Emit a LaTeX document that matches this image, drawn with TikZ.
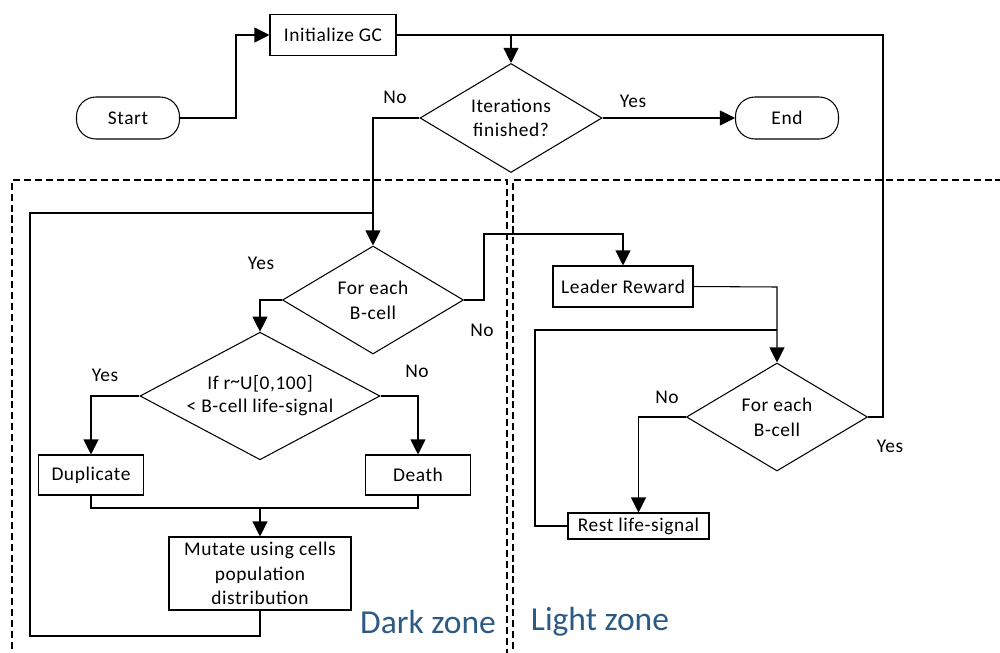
\documentclass[tikz,border=0pt]{standalone}
\usepackage{fontspec}
\setmainfont[LetterSpace=3]{Carlito}
\newfontfamily\zonefont{Carlito}
\usetikzlibrary{arrows.meta,shapes.geometric,positioning}
\definecolor{zonecol}{HTML}{2C5A85}
\begin{document}
\begin{tikzpicture}[x=0.5669pt,y=-0.5669pt,
  every node/.style={font=\fontsize{11}{14}\selectfont},
  conn/.style={line width=0.6pt},
  arr/.style={conn,-{Triangle[length=8.5pt,width=8.5pt]}},
  procbox/.style={draw,line width=0.6pt,rectangle,inner sep=0pt,align=center},
  termbox/.style={draw,line width=0.6pt,rounded corners=11pt,inner sep=0pt,minimum width=103*0.5669pt,minimum height=42*0.5669pt},
  decbox/.style={draw,line width=0.6pt,diamond,inner sep=0pt,aspect=1.68,align=center},
  zone/.style={line width=1.4pt,dash pattern=on 4pt off 2.2pt},
  lbl/.style={inner sep=0pt},
  zonelbl/.style={font=\zonefont\fontsize{19}{22}\selectfont,text=zonecol,inner sep=0pt}]
\useasboundingbox (0,0) rectangle (1000,653);
% zones
\draw[zone] (12,660) -- (12,180) -- (507,180) -- (507,660);
\draw[zone] (513,660) -- (513,180) -- (1005,180);
% nodes
\node[termbox] (start) at (128,118) {Start};
\node[termbox] (end) at (787,118) {End};
\node[procbox,minimum width=126*0.5669pt,minimum height=41*0.5669pt] (init) at (333,35) {Initialize GC};
\node[decbox,minimum width=182*0.5669pt,minimum height=109*0.5669pt] (iter) at (511,118) {Iterations\\finished?};
\node[decbox,minimum width=181*0.5669pt,minimum height=108*0.5669pt] (each1) at (373,300) {For each\\B-cell};
\node[decbox,minimum width=240*0.5669pt,minimum height=103*0.5669pt] (ifr) at (260,396) {If r\raisebox{0.3ex}{\textasciitilde}U[0,100]\\[-1pt]< B-cell life-signal};
\node[procbox,minimum width=105*0.5669pt,minimum height=40*0.5669pt] (dup) at (91,475) {Duplicate};
\node[procbox,minimum width=105*0.5669pt,minimum height=40*0.5669pt] (death) at (418,475) {Death};
\node[procbox,minimum width=182*0.5669pt,minimum height=73*0.5669pt] (mut) at (260,573.5) {Mutate using cells\\population\\distribution};
\node[procbox,minimum width=140*0.5669pt,minimum height=41*0.5669pt] (lead) at (623,286.5) {Leader Reward};
\node[decbox,minimum width=181*0.5669pt,minimum height=108*0.5669pt] (each2) at (777,417) {For each\\B-cell};
\node[procbox,minimum width=141*0.5669pt,minimum height=26*0.5669pt] (rest) at (638.5,526) {Rest life-signal};
% coordinates
\coordinate (c1) at (236,118);
\coordinate (c2) at (236,35);
\coordinate (top) at (511,35);
\coordinate (rtop) at (883,35);
\coordinate (rmid) at (883,417);
\coordinate (nol) at (373,118);
\coordinate (loopj) at (373,213);
\coordinate (loopa) at (30,213);
\coordinate (loopb) at (30,636);
\coordinate (loopc) at (260,636);
\coordinate (noa) at (484,300);
\coordinate (nob) at (484,234);
\coordinate (noc) at (623,234);
\coordinate (lr) at (777,287);
\coordinate (lj) at (777,330);
\coordinate (la) at (535,330);
\coordinate (lb) at (535,526);
\coordinate (merge) at (260,508);
% connectors
\draw[arr] (start.east) -- (c1) -- (c2) -- (init.west);
\draw[conn] (init.east) -- (rtop) -- (rmid) -- (each2.east);
\draw[arr] (top) -- (iter.north);
\draw[arr] (iter.east) -- (end.west);
\draw[arr] (iter.west) -- (nol) -- (each1.north);
\draw[conn] (mut.south) -- (loopc) -- (loopb) -- (loopa) -- (loopj);
\draw[arr] (each1.west) -| (ifr.north);
\draw[arr] (each1.east) -- (noa) -- (nob) -- (noc) -- (lead.north);
\draw[arr] (ifr.west) -| (dup.north);
\draw[arr] (ifr.east) -| (death.north);
\draw[conn] (dup.south) |- (merge) -| (death.south);
\draw[arr] (merge) -- (mut.north);
\draw[arr] (lead.east) -- (lr) -- (each2.north);
\draw[arr] (each2.west) -| (rest.north);
\draw[conn] (rest.west) -- (lb) -- (la) -- (lj);
% labels
\node[lbl] (l1) at (395,97) {No};
\node[lbl] (l2) at (633,101) {Yes};
\node[lbl] (l3) at (261,263) {Yes};
\node[lbl] (l4) at (482,330) {No};
\node[lbl] (l5) at (105,375) {Yes};
\node[lbl] (l6) at (417,371) {No};
\node[lbl] (l7) at (667,397) {No};
\node[lbl] (l8) at (890,446) {Yes};
\node[zonelbl] (dz) at (428,622) {Dark zone};
\node[zonelbl] (lz) at (600,622) {Light zone};
\end{tikzpicture}
\end{document}
